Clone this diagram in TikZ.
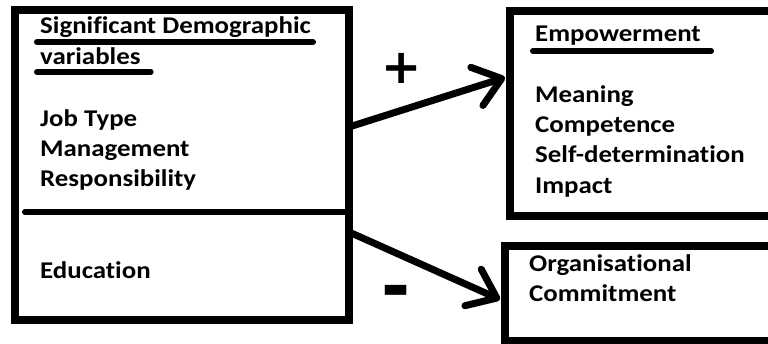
\documentclass[tikz,border=0pt]{standalone}
\usepackage{fontspec}
\setmainfont{Carlito}[FakeStretch=1.12,Ligatures=CommonOff]
\newfontfamily\signfont{DejaVu Sans}
\usetikzlibrary{arrows.meta}

\tikzset{
	box/.style={draw,line width=8pt,inner sep=0pt,outer sep=0pt},
	item/.style={anchor=base west,inner sep=0pt,font=\bfseries\fontsize{24}{28}\selectfont},
	uline/.style={line width=6pt,line cap=round},
	link/.style={line width=7pt,line cap=round,
		-{Straight Barb[length=26pt,width=40pt,round]}},
	sign/.style={inner sep=0pt,font=\signfont\bfseries}
}

\begin{document}
\begin{tikzpicture}[x=1pt,y=-1pt]
\useasboundingbox (0,0) rectangle (768,344);

% the three boxes
\node[box,minimum width=334pt,minimum height=310pt] (demo) at (182,165) {};
\node[box,minimum width=290pt,minimum height=205pt] (emp) at (655,113.5) {};
\node[box,minimum width=295pt,minimum height=95pt] (org) at (652.5,293.5) {};

% left box: heading, items, divider
\node[item] (head1) at (40,34) {Significant Demographic};
\node[item] (head2) at (40,65) {variables};
\draw[uline] ([xshift=-3pt,yshift=-8pt]head1.base west) -- ([xshift=2pt,yshift=-8pt]head1.base east);
\draw[uline] ([xshift=-3pt,yshift=-7pt]head2.base west) -- ([xshift=10pt,yshift=-7pt]head2.base east);
\foreach \t [count=\i] in {Job Type,Management,Responsibility}
	\node[item] (var\i) at (40,97+30*\i) {\t};
\draw[line width=6pt,line cap=round] (25,212) -- (345,212);
\node[item] (edu) at (40,279) {Education};

% empowerment box
\node[item] (emphead) at (535,42) {Empowerment};
\draw[uline] ([xshift=-2pt,yshift=-9pt]emphead.base west) -- ([xshift=10pt,yshift=-9pt]emphead.base east);
\foreach \t [count=\i] in {Meaning,Competence,Self-determination,Impact}
	\node[item] (dim\i) at (535,72+30.3*\i) {\t};

% commitment box
\node[item] (org1) at (529,272) {Organisational};
\node[item] (org2) at (529,302) {Commitment};

% links
\draw[link] ([yshift=38pt]demo.east) -- ([xshift=-5pt,yshift=36pt]emp.west);
\draw[link] ([yshift=-67pt]demo.east) -- ([xshift=-5pt,yshift=-6pt]org.west);
\node[sign,font=\signfont\bfseries\fontsize{48}{48}\selectfont] (plus) at (402,68) {+};
\node[sign,font=\signfont\bfseries\fontsize{70}{70}\selectfont] (minus) at (396,298) {-};

\end{tikzpicture}
\end{document}
